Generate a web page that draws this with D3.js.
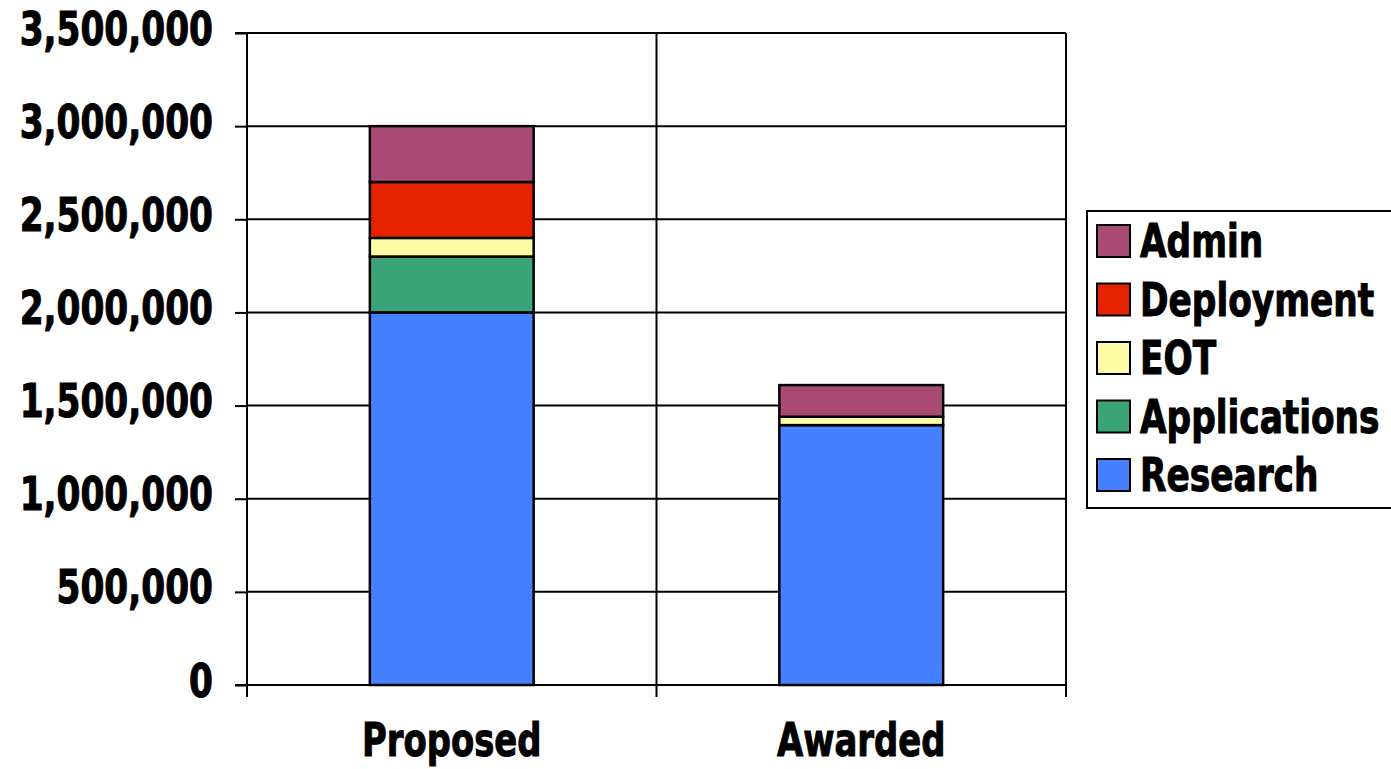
<!DOCTYPE html>
<html><head><meta charset="utf-8">
<script src="https://cdn.jsdelivr.net/npm/d3@7"></script>
<style>
html,body{margin:0;padding:0;background:#fff;}
svg text{font-family:"DejaVu Sans Condensed","Liberation Sans Narrow",sans-serif;font-weight:bold;fill:#000;stroke:#000;stroke-width:1px;}
</style></head>
<body><svg id="c" width="1391" height="769"></svg>
<script>
const categories = ["Proposed", "Awarded"];
const seriesNames = ["Research", "Applications", "EOT", "Deployment", "Admin"];
const research     = [2000000, 1395000];
const applications = [300000, 0];
const eot          = [100000, 45000];
const deployment   = [300000, 0];
const admin        = [300000, 170000];
const colors = ["#4480ff", "#3ba378", "#fffca8", "#e42200", "#a84a74"];
const yTicks = [0, 500000, 1000000, 1500000, 2000000, 2500000, 3000000, 3500000];

const table = categories.map((c, i) => ({cat: c, Research: research[i], Applications: applications[i], EOT: eot[i], Deployment: deployment[i], Admin: admin[i]}));
const stacked = d3.stack().keys(seriesNames)(table);

const svg = d3.select("#c");
const L = 247, R = 1066, T = 33, B = 685;
const x = d3.scaleBand().domain(categories).range([L, R]).paddingInner(0.6).paddingOuter(0.3);
const xCell = d3.scaleBand().domain(categories).range([L, R]);
const y = d3.scaleLinear().domain([0, 3500000]).range([B, T]);
const color = d3.scaleOrdinal().domain(seriesNames).range(colors);

function squeeze(sel, sx) {
  sel.each(function() {
    const t = d3.select(this);
    const tx = +t.attr("x") || 0, ty = +t.attr("y") || 0;
    t.attr("x", 0).attr("y", 0).attr("transform", `translate(${tx},${ty}) scale(${sx},1)`);
  });
}

// gridlines
svg.append("g").selectAll("line").data(yTicks.filter(d => d > 0)).join("line")
  .attr("x1", L).attr("x2", R).attr("y1", d => y(d)).attr("y2", d => y(d))
  .attr("stroke", "#000").attr("stroke-width", 2);
// right border
svg.append("line").attr("x1", R).attr("x2", R).attr("y1", T).attr("y2", B).attr("stroke", "#000").attr("stroke-width", 2);

// bars
svg.append("g").selectAll("g").data(stacked).join("g")
  .attr("fill", d => color(d.key))
  .selectAll("rect").data(d => d.filter(s => s[1] - s[0] > 0)).join("rect")
  .attr("x", d => x(d.data.cat)).attr("width", x.bandwidth())
  .attr("y", d => y(d[1])).attr("height", d => y(d[0]) - y(d[1]))
  .attr("stroke", "#000").attr("stroke-width", 2.5);

// y axis
const yAxis = svg.append("g").attr("transform", `translate(${L},0)`)
  .call(d3.axisLeft(y).tickValues(yTicks).tickSize(12).tickPadding(22).tickFormat(d3.format(",")));
yAxis.attr("font-family", null).attr("font-size", null);
yAxis.selectAll("line").attr("stroke", "#000").attr("stroke-width", 2);
yAxis.select(".domain").attr("stroke", "#000").attr("stroke-width", 2).attr("d", `M-12,${T}H0V${B}H-12`);
yAxis.selectAll("text").attr("font-size", 46).attr("dy", 11).attr("fill", "#000");
squeeze(yAxis.selectAll("text"), 0.83);

// x axis with ticks at category boundaries
const boundaries = [L, ...categories.map(c => xCell(c) + xCell.bandwidth())];
svg.append("line").attr("x1", L - 12).attr("x2", R).attr("y1", B).attr("y2", B).attr("stroke", "#000").attr("stroke-width", 2);
svg.append("g").selectAll("line").data(boundaries).join("line")
  .attr("x1", d => d).attr("x2", d => d).attr("y1", (d, i) => i === 1 ? T : B).attr("y2", B + 12)
  .attr("stroke", "#000").attr("stroke-width", 2);
const catText = svg.append("g").selectAll("text").data(categories).join("text")
  .attr("x", d => x(d) + x.bandwidth() / 2).attr("y", 756)
  .attr("text-anchor", "middle").attr("font-size", 47).text(d => d);
squeeze(catText, 0.8);

// legend
const lg = svg.append("g");
lg.append("rect").attr("x", 1087).attr("y", 211).attr("width", 320).attr("height", 297)
  .attr("fill", "#fff").attr("stroke", "#000").attr("stroke-width", 2);
const legendOrder = seriesNames.slice().reverse();
const rows = lg.selectAll("g.row").data(legendOrder).join("g").attr("class", "row")
  .attr("transform", (d, i) => `translate(1097,${225 + i * 58.5})`);
rows.append("rect").attr("width", 33).attr("height", 32).attr("fill", d => color(d))
  .attr("stroke", "#000").attr("stroke-width", 2);
const lgText = rows.append("text").attr("x", 43).attr("y", 32).attr("font-size", 46).text(d => d);
squeeze(lgText, 0.83);
</script></body></html>
